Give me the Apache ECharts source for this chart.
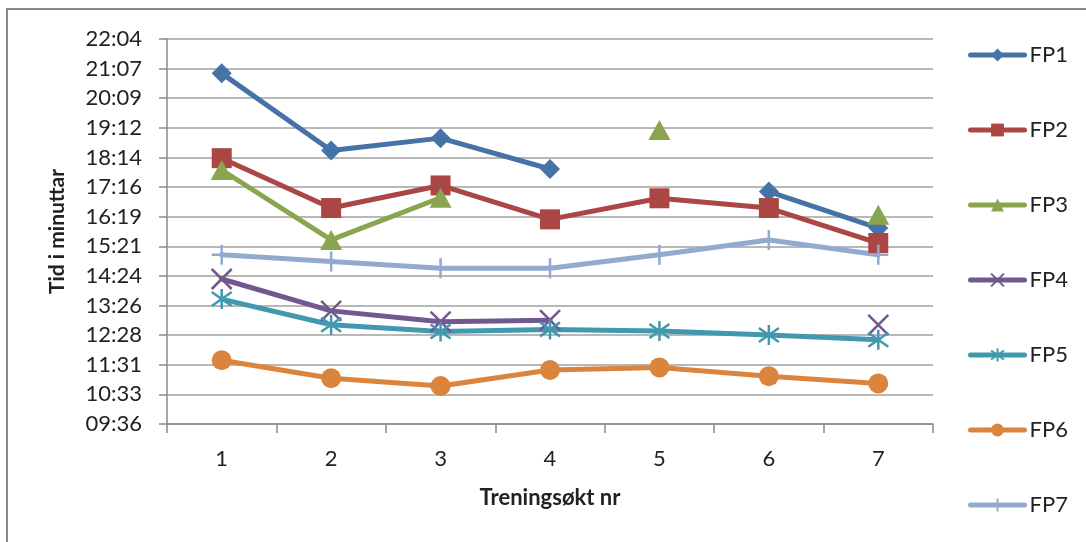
<!DOCTYPE html>
<html>
<head>
<meta charset="utf-8">
<title>Tid i minuttar per treningsøkt</title>
<script src="https://cdn.jsdelivr.net/npm/echarts@6/dist/echarts.min.js"></script>
<style>
    html, body { margin: 0; padding: 0; background: #fff; }
    #chart1 { width: 1086px; height: 542px; }
</style>
</head>
<body>
<div id="chart1"></div>
<script>
// data (tid i sekund, null = manglar)
var categories = ['1', '2', '3', '4', '5', '6', '7'];
var seriesNames = ['FP1', 'FP2', 'FP3', 'FP4', 'FP5', 'FP6', 'FP7'];
var fp1 = [1258, 1108, 1132, 1072, null, 1028, 957];
var fp2 = [1093, 996, 1040, 974, 1015, 996, 928];
var fp3 = [1070, 934, 1016, null, 1148, null, 983];
var fp4 = [858, 796, 775, 778, null, null, 769];
var fp5 = [819, 769, 756, 760, 757, 749, 740];
var fp6 = [700, 665, 650, 681, 686, 669, 655];
var fp7 = [905, 892, 879, 879, 905, 934, 905];
var yMin = 576, yMax = 1324.8, yStep = 57.6;

var colors = ['#4572A7', '#AA4643', '#89A54E', '#71588F', '#4198AF', '#DB843D', '#93A9CF'];
var FONT = 'Lato, "Open Sans", sans-serif';

// mm:ss, sekund blir kutta
function fmtTime(v) {
    var s = Math.floor(Math.round(v * 10) / 10);
    var m = Math.floor(s / 60), r = s % 60;
    return (m < 10 ? '0' : '') + m + ':' + (r < 10 ? '0' : '') + r;
}

var markers = [
    { symbol: 'diamond', size: 20, stroke: false },
    { symbol: 'rect', size: 20, stroke: false },
    { symbol: 'triangle', size: [22, 20], stroke: false },
    { symbol: 'path://M0,0L10,10M10,0L0,10', size: 20, stroke: true },
    { symbol: 'path://M5,0L5,10M0,1.5L10,8.5M0,8.5L10,1.5', size: 20, stroke: true },
    { symbol: 'circle', size: 20, stroke: false },
    { symbol: 'path://M5,0L5,10M0,5L10,5', size: 20, stroke: true }
];

var allData = [fp1, fp2, fp3, fp4, fp5, fp6, fp7];
var series = [];
for (var i = 0; i < allData.length; i++) {
    var mk = markers[i];
    series.push({
        name: seriesNames[i],
        type: 'line',
        data: allData[i],
        connectNulls: false,
        symbol: mk.symbol,
        symbolSize: mk.size,
        showAllSymbol: true,
        lineStyle: { color: colors[i], width: 5, cap: 'round', join: 'round' },
        itemStyle: {
            color: mk.stroke ? 'none' : colors[i],
            borderColor: colors[i],
            borderWidth: mk.stroke ? 2.5 : 0
        },
        emphasis: { disabled: true },
        animation: false
    });
}

var myChart = echarts.init(document.getElementById('chart1'));

var option = {
    backgroundColor: '#fff',
    color: colors,
    textStyle: { fontFamily: FONT },
    graphic: [{
        type: 'rect',
        shape: { x: 7, y: 9, width: 1100, height: 560 },
        style: { fill: 'none', stroke: '#8a8a8a', lineWidth: 2 },
        silent: true
    }],
    grid: { left: 167, right: 153, top: 39, bottom: 118 },
    legend: {
        orient: 'vertical',
        left: 963,
        top: 38,
        itemWidth: 54,
        itemHeight: 16,
        itemGap: 51,
        data: seriesNames,
        lineStyle: { width: 5, cap: 'round' },
        textStyle: { fontFamily: FONT, fontSize: 22, color: '#222', lineHeight: 24 }
    },
    xAxis: {
        type: 'category',
        data: categories,
        boundaryGap: true,
        name: 'Treningsøkt nr',
        nameLocation: 'middle',
        nameGap: 63,
        nameTextStyle: { fontFamily: FONT, fontSize: 22, fontWeight: 'bold', color: '#222' },
        axisLine: { lineStyle: { color: '#8a8a8a', width: 1.5 } },
        axisTick: { show: true, inside: false, length: 9, alignWithLabel: false, lineStyle: { color: '#8a8a8a', width: 1.5 } },
        axisLabel: { fontFamily: FONT, fontSize: 22, color: '#222', margin: 24 },
        splitLine: { show: false }
    },
    yAxis: {
        type: 'value',
        min: yMin,
        max: yMax,
        interval: yStep,
        name: 'Tid i minuttar',
        nameLocation: 'middle',
        nameGap: 99,
        nameTextStyle: { fontFamily: FONT, fontSize: 21, fontWeight: 'bold', color: '#222' },
        axisLine: { show: true, lineStyle: { color: '#8a8a8a', width: 1.5 } },
        axisTick: { show: true, length: 8, lineStyle: { color: '#8a8a8a', width: 1.5 } },
        axisLabel: { fontFamily: FONT, fontSize: 22, color: '#222', margin: 25, formatter: fmtTime },
        splitLine: { show: true, lineStyle: { color: '#a0a0a0', width: 1.5 } }
    },
    series: series
};

myChart.setOption(option);
</script>
</body>
</html>
